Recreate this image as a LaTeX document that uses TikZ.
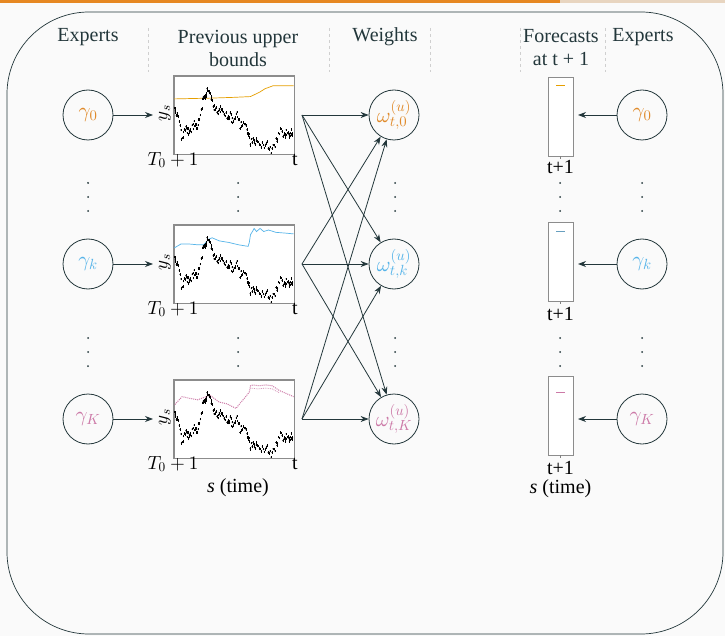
\documentclass[tikz,border=0pt]{standalone}
\DeclareFontFamily{OML}{cmm}{\skewchar\font'177}
\DeclareFontShape{OML}{cmm}{m}{it}{<-> cmmi10}{}
\DeclareFontFamily{OMS}{cmsy}{\skewchar\font'60}
\DeclareFontShape{OMS}{cmsy}{m}{n}{<-> cmsy10}{}
\DeclareFontFamily{OT1}{cmr}{\hyphenchar\font45}
\DeclareFontShape{OT1}{cmr}{m}{n}{<-> cmr10}{}
\usepackage{fontspec}
\setmainfont{Liberation Serif}
\usetikzlibrary{arrows.meta}
\definecolor{slate}{HTML}{23373B}
\definecolor{bgc}{HTML}{FAFAFA}
\definecolor{orT}{HTML}{E08A2A}
\definecolor{orL}{HTML}{E69F00}
\definecolor{blT}{HTML}{56B4E9}
\definecolor{pkT}{HTML}{CC79A7}
\definecolor{barbg}{HTML}{E8D5C0}
\definecolor{divc}{HTML}{CFCFCF}
\newcommand\blackseries{%
  \pgfmathsetseed{4242}%
  \foreach \qu/\qv [remember=\qu as \lqu (initially 0), remember=\qv as \lqv (initially 0.59)] in
  {0.02/0.52, 0.04/0.46, 0.07/0.18, 0.10/0.38, 0.12/0.28, 0.14/0.31, 0.17/0.38, 0.19/0.33, 0.21/0.44, 0.24/0.68, 0.26/0.76, 0.28/0.81, 0.31/0.72, 0.34/0.59, 0.37/0.51, 0.39/0.58, 0.41/0.55, 0.45/0.46, 0.47/0.52, 0.49/0.42, 0.52/0.55, 0.55/0.38, 0.59/0.36, 0.62/0.29, 0.64/0.14, 0.67/0.18, 0.69/0.16, 0.73/0.12, 0.77/0.14, 0.81/0.06, 0.85/0.16, 0.89/0.29, 0.92/0.24, 0.94/0.27, 0.97/0.25, 0.99/0.29}{%
    \foreach \jj in {1,...,5}{%
      \pgfmathsetmacro\myx{\lqu+(\qu-\lqu)*\jj/5}%
      \pgfmathsetmacro\myy{\lqv+(\qv-\lqv)*\jj/5+0.05*rand}%
      \fill[black] (\myx,\myy) circle[radius=0.5pt];%
      \draw[black, line width=0.3pt] (\myx,\myy) ++(0,-1.3pt) -- ++(0,2.6pt);%
    }%
  }%
}
\begin{document}
\begin{tikzpicture}[x=1pt,y=-1pt,
  hdr/.style={font=\fontsize{20}{23}\selectfont, text=slate, align=center},
  lbl/.style={font=\fontsize{19}{21}\selectfont, text=black},
  txl/.style={font=\fontsize{20}{22}\selectfont, text=black},
  expert/.style={circle, draw=slate, line width=0.8pt, minimum size=50pt, inner sep=0pt, font=\fontsize{21}{23}\selectfont},
  wnode/.style={expert, font=\fontsize{21}{23}\selectfont},
  plotbox/.style={draw=gray!90, fill=white, line width=0.6pt, minimum width=120pt, minimum height=78pt, inner sep=0pt},
  fbox/.style={draw=gray!90, fill=white, line width=0.6pt, minimum width=25pt, minimum height=79pt, inner sep=0pt},
  conn/.style={draw=slate, line width=0.8pt, -{Stealth[length=8pt,width=6pt]}},
  divider/.style={draw=divc, dashed, line width=0.6pt},
  vdot/.style={fill=slate}]
\useasboundingbox (0,0) rectangle (725,636);
\fill[bgc] (0,0) rectangle (725,636);
% progress bar
\fill[orT!80!orange] (0,0) rectangle (560,3);
\fill[barbg] (560,0) rectangle (725,3);
% frame
\draw[slate, line width=0.7pt, rounded corners=82pt] (7,12) rectangle (723,634);
% headers
\node[hdr] (h1) at (88,37) {Experts};
\node[hdr] (h2) at (238,48) {Previous upper\\bounds};
\node[hdr] (h3) at (385,37) {Weights};
\node[hdr] (h4) at (561,48) {Forecasts\\at t + 1};
\node[hdr] (h5) at (643,37) {Experts};
\foreach \xx in {148,329,430,520,605}{
  \draw[divider] (\xx,28) -- (\xx,72);
}
% rows
\def\rA{115}\def\rB{264}\def\rC{419}
% left experts
\node[expert, text=orT] (g0) at (88,\rA) {$\gamma_0$};
\node[expert, text=blT] (gk) at (88,\rB) {$\gamma_k$};
\node[expert, text=pkT] (gK) at (88,\rC) {$\gamma_K$};
% right experts
\node[expert, text=orT] (r0) at (642,\rA) {$\gamma_0$};
\node[expert, text=blT] (rk) at (642,\rB) {$\gamma_k$};
\node[expert, text=pkT] (rK) at (642,\rC) {$\gamma_K$};
% weights
\node[wnode, text=orT] (w0) at (394,\rA) {$\omega_{t,0}^{(u)}$};
\node[wnode, text=blT] (wk) at (394,\rB) {$\omega_{t,k}^{(u)}$};
\node[wnode, text=pkT] (wK) at (394,\rC) {$\omega_{t,K}^{(u)}$};
% plots
\node[plotbox] (p0) at (234,\rA) {};
\node[plotbox] (pk) at (234,\rB) {};
\node[plotbox] (pK) at (234,\rC) {};
% plot 1
\begin{scope}[shift={(p0.south west)}, x={(120pt,0pt)}, y={(0pt,78pt)}]
  \clip (0,0) rectangle (1,1);
  \draw[orL, line width=0.7pt] (0,0.71) -- (0.3,0.72) -- (0.5,0.73) -- (0.64,0.74) -- (0.68,0.77) -- (0.72,0.80) -- (0.76,0.84) -- (0.83,0.88) -- (1,0.88);
  \blackseries
\end{scope}
\begin{scope}[shift={(pk.south west)}, x={(120pt,0pt)}, y={(0pt,78pt)}]
  \clip (0,0) rectangle (1,1);
  \draw[blT, line width=0.7pt] (0.005,0.71) -- (0.06,0.76) -- (0.13,0.76) -- (0.2,0.75) -- (0.25,0.75) -- (0.29,0.82) -- (0.32,0.84) -- (0.38,0.80) -- (0.46,0.78) -- (0.54,0.75) -- (0.62,0.73) -- (0.63,0.78) -- (0.64,0.88) -- (0.66,0.93) -- (0.67,0.96) -- (0.69,0.92) -- (0.72,0.96) -- (0.75,0.92) -- (0.79,0.94) -- (0.85,0.91) -- (0.93,0.90) -- (1,0.89);
  \blackseries
\end{scope}
\begin{scope}[shift={(pK.south west)}, x={(120pt,0pt)}, y={(0pt,78pt)}]
  \clip (0,0) rectangle (1,1);
  \draw[pkT, line width=1pt, densely dotted] (0.01,0.69) -- (0.07,0.79) -- (0.13,0.77) -- (0.2,0.75) -- (0.27,0.79) -- (0.30,0.81) -- (0.38,0.72) -- (0.44,0.70) -- (0.52,0.64) -- (0.55,0.70) -- (0.6,0.79) -- (0.63,0.85) -- (0.64,0.93) -- (0.66,0.94) -- (0.71,0.93) -- (0.77,0.94) -- (0.82,0.93) -- (0.88,0.87) -- (0.94,0.83) -- (1,0.79);
  \draw[pkT!80, line width=0.8pt, densely dotted] (0.64,0.90) -- (0.70,0.89) -- (0.77,0.90) -- (0.82,0.89) -- (0.88,0.84);
  \blackseries
\end{scope}
\draw[gray!90, line width=0.6pt] (p0.south west) rectangle (p0.north east);
\draw[gray!90, line width=0.6pt] (pk.south west) rectangle (pk.north east);
\draw[gray!90, line width=0.6pt] (pK.south west) rectangle (pK.north east);
% y_s labels
\node[lbl, rotate=90] (ys0) at (165,\rA-2) {$y_s$};
\node[lbl, rotate=90] (ysk) at (165,\rB-2) {$y_s$};
\node[lbl, rotate=90] (ysK) at (165,\rC-2) {$y_s$};
% axis labels
\node[lbl, anchor=west] (ta0) at (144,\rA+45) {$T_0+1$};
\node[lbl, anchor=west] (tak) at (144,\rB+45) {$T_0+1$};
\node[lbl, anchor=west] (taK) at (144,\rC+45) {$T_0+1$};
\node[txl] (tb0) at (295,\rA+45) {t};
\node[txl] (tbk) at (295,\rB+45) {t};
\node[txl] (tbK) at (295,\rC+45) {t};
\node[txl] (st1) at (238,488) {\textit{s} (time)};
% forecast boxes
\node[fbox] (f0) at (560.5,\rA+1.5) {};
\node[fbox] (fk) at (560.5,\rB-2) {};
\node[fbox] (fK) at (560.5,\rC-3.5) {};
\draw[orL, line width=0.9pt] ([yshift=-9pt]f0.north) ++(-4.5,0) -- ++(9,0);
\draw[blT!60!gray, line width=0.6pt] ([yshift=-9pt]fk.north) ++(-4.5,0) -- ++(9,0);
\draw[pkT, line width=0.7pt] ([yshift=-17pt]fK.north) ++(-4.5,0) -- ++(9,0);
\draw[gray, line width=0.5pt] (f0.south) -- ++(0,2.5);
\draw[gray, line width=0.5pt] (fk.south) -- ++(0,2.5);
\draw[gray, line width=0.5pt] (fK.south) -- ++(0,2.5);
\node[txl] (tp0) at (560.5,\rA+52) {t+1};
\node[txl] (tpk) at (560.5,\rB+50) {t+1};
\node[txl] (tpK) at (560.5,\rC+49) {t+1};
\node[txl] (st2) at (560.5,489) {\textit{s} (time)};
% connectors left
\coordinate (i0) at (153,\rA);
\coordinate (ik) at (153,\rB);
\coordinate (iK) at (153,\rC);
\draw[conn] (g0) -- (i0);
\draw[conn] (gk) -- (ik);
\draw[conn] (gK) -- (iK);
% connectors plots -> weights
\coordinate (o0) at (302,\rA);
\coordinate (ok) at (302,\rB);
\coordinate (oK) at (302,\rC);
\foreach \src in {o0,ok,oK}{
  \foreach \dst in {w0,wk,wK}{
    \draw[conn] (\src) -- (\dst);
  }
}
% connectors right
\coordinate (e0) at (578,\rA);
\coordinate (ek) at (578,\rB);
\coordinate (eK) at (578,\rC);
\draw[conn] (r0) -- (e0);
\draw[conn] (rk) -- (ek);
\draw[conn] (rK) -- (eK);
% vertical dots
\foreach \xx in {88,238,395,560,642}{
  \foreach \yy in {183,197,211,338,352,366}{
    \fill[vdot] (\xx,\yy) circle[radius=1pt];
  }
}
\end{tikzpicture}
\end{document}
